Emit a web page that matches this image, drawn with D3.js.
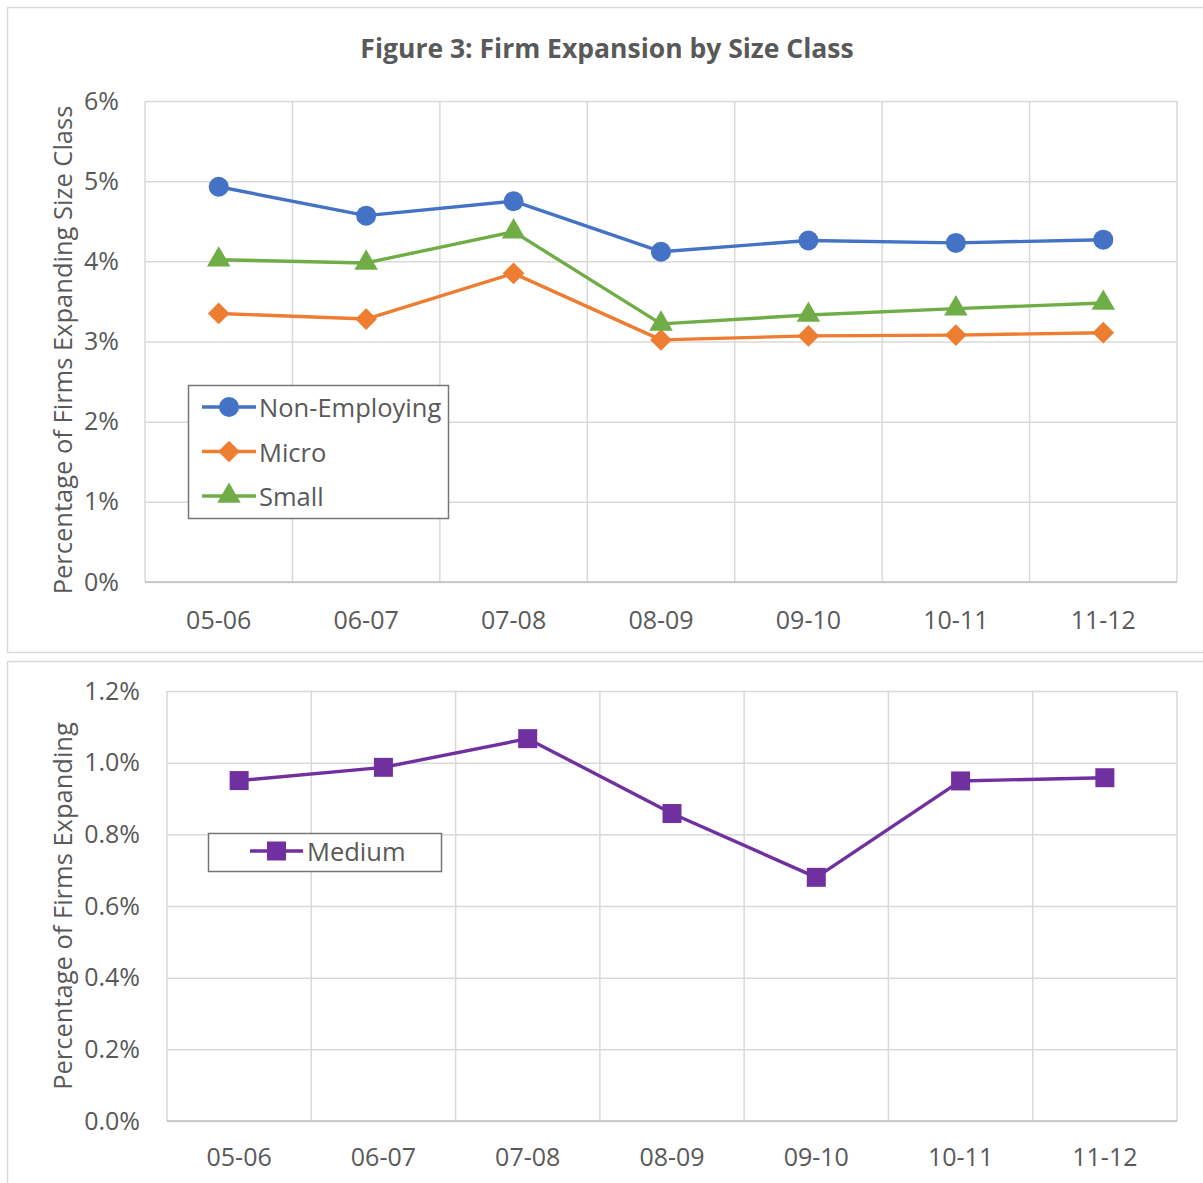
<!DOCTYPE html>
<html>
<head>
<meta charset="utf-8">
<script src="https://cdn.jsdelivr.net/npm/d3@7"></script>
<style>
  html, body { margin: 0; padding: 0; background: #ffffff; }
  svg { display: block; }
  text { font-family: "Open Sans", "Noto Sans", sans-serif; fill: #595959; }
</style>
</head>
<body>
<svg id="chart" width="1203" height="1183"></svg>
<script>
// Fiscal-year periods shared by both panels
const periods = ["05-06", "06-07", "07-08", "08-09", "09-10", "10-11", "11-12"];

// Share of firms expanding out of their size class (%)
const nonEmploying = [4.93, 4.57, 4.75, 4.12, 4.26, 4.23, 4.27];
const micro        = [3.35, 3.28, 3.85, 3.02, 3.07, 3.08, 3.11];
const small        = [4.02, 3.98, 4.37, 3.22, 3.33, 3.41, 3.48];
const medium       = [0.95, 0.987, 1.067, 0.858, 0.68, 0.949, 0.958];

// Axis ticks
const topTicks = [0, 1, 2, 3, 4, 5, 6];
const bottomTicks = [0, 0.2, 0.4, 0.6, 0.8, 1.0, 1.2];

const title = "Figure 3: Firm Expansion by Size Class";

const svg = d3.select("#chart");
const gridColor = "#d9d9d9";
const tickFont = 25;

const symbols = {
  circle: d3.symbol().type(d3.symbolCircle).size(Math.PI * 10 * 10),
  diamond: d3.symbol().type(d3.symbolDiamond2 || d3.symbolDiamond).size(300),
  triangle: d3.symbol().type(d3.symbolTriangle).size(240),
  square: d3.symbol().type(d3.symbolSquare).size(19 * 19)
};

svg.append("rect").attr("width", 1203).attr("height", 1183).attr("fill", "#fff");

function drawPanel(cfg) {
  // panel frame
  svg.append("rect")
    .attr("x", 7.5).attr("y", cfg.frameTop + 0.5)
    .attr("width", 1210).attr("height", cfg.frameBottom - cfg.frameTop)
    .attr("fill", "#fff").attr("stroke", gridColor).attr("stroke-width", 1.5);

  const x = d3.scaleBand().domain(periods).range([cfg.left, cfg.right]);
  const y = d3.scaleLinear().domain(cfg.domain).range([cfg.bottom, cfg.top]);

  const g = svg.append("g");

  // horizontal gridlines
  g.append("g")
    .attr("transform", `translate(${cfg.left},0)`)
    .call(d3.axisLeft(y).tickValues(cfg.ticks).tickSize(-(cfg.right - cfg.left)).tickFormat(""))
    .call(a => a.select(".domain").remove())
    .call(a => a.selectAll("line").attr("stroke", gridColor).attr("stroke-width", 1.5));

  // vertical gridlines at category boundaries
  const bounds = periods.map(p => x(p)).concat([cfg.right]);
  g.append("g").selectAll("line").data(bounds).join("line")
    .attr("x1", d => d).attr("x2", d => d)
    .attr("y1", cfg.top).attr("y2", cfg.bottom)
    .attr("stroke", gridColor).attr("stroke-width", 1.5);

  // baseline
  g.append("line")
    .attr("x1", cfg.left).attr("x2", cfg.right)
    .attr("y1", cfg.bottom).attr("y2", cfg.bottom)
    .attr("stroke", "#bfbfbf").attr("stroke-width", 1.5);

  // y tick labels
  const yAxis = g.append("g")
    .attr("transform", `translate(${cfg.tickLabelX},0)`)
    .call(d3.axisLeft(y).tickValues(cfg.ticks).tickSize(0).tickPadding(0).tickFormat(cfg.fmt));
  yAxis.select(".domain").remove();
  yAxis.selectAll("text")
    .style("font-family", "\"Open Sans\", sans-serif")
    .attr("font-size", tickFont).attr("fill", "#595959");

  // x tick labels
  const xAxis = g.append("g")
    .attr("transform", `translate(0,${cfg.bottom})`)
    .call(d3.axisBottom(x).tickSize(0).tickPadding(cfg.xPad));
  xAxis.select(".domain").remove();
  xAxis.selectAll("text")
    .style("font-family", "\"Open Sans\", sans-serif")
    .attr("font-size", tickFont).attr("fill", "#595959");

  // y axis title
  svg.append("text")
    .attr("transform", `translate(${cfg.titleX},${cfg.titleY}) rotate(-90)`)
    .attr("text-anchor", "middle")
    .attr("dominant-baseline", "central")
    .attr("font-size", 25.5)
    .text(cfg.yTitle);

  // series
  const cx = d => x(d) + x.bandwidth() / 2;
  cfg.series.forEach(s => {
    const line = d3.line().x((v, i) => cx(periods[i])).y(v => y(v));
    g.append("path").datum(s.values)
      .attr("fill", "none").attr("stroke", s.color).attr("stroke-width", 3.4)
      .attr("stroke-linejoin", "round")
      .attr("d", line);
    g.append("g").selectAll("path").data(s.values).join("path")
      .attr("transform", (v, i) => `translate(${cx(periods[i])},${y(v)})`)
      .attr("d", symbols[s.shape]())
      .attr("fill", s.color);
  });

  // legend
  const L = cfg.legend;
  svg.append("rect")
    .attr("x", L.x + 0.5).attr("y", L.y + 0.5)
    .attr("width", L.w).attr("height", L.h)
    .attr("fill", "#fff").attr("stroke", "#767676").attr("stroke-width", 1.5);
  cfg.series.forEach((s, i) => {
    const ry = L.rowY + i * L.rowStep;
    svg.append("line")
      .attr("x1", L.lineX1).attr("x2", L.lineX2)
      .attr("y1", ry).attr("y2", ry)
      .attr("stroke", s.color).attr("stroke-width", 3.4);
    svg.append("path")
      .attr("transform", `translate(${(L.lineX1 + L.lineX2) / 2},${ry})`)
      .attr("d", symbols[s.shape]())
      .attr("fill", s.color);
    svg.append("text")
      .attr("x", L.textX).attr("y", ry)
      .attr("dominant-baseline", "central")
      .attr("font-size", 25.5)
      .text(s.name);
  });
}

drawPanel({
  frameTop: 7, frameBottom: 652,
  left: 145, right: 1177, top: 101, bottom: 582,
  domain: [0, 6], ticks: topTicks, fmt: d => d + "%",
  tickLabelX: 119, xPad: 29,
  titleX: 62, titleY: 350,
  yTitle: "Percentage of Firms Expanding Size Class",
  series: [
    { name: "Non-Employing", values: nonEmploying, color: "#4472c4", shape: "circle" },
    { name: "Micro", values: micro, color: "#ed7d31", shape: "diamond" },
    { name: "Small", values: small, color: "#70ad47", shape: "triangle" }
  ],
  legend: { x: 188, y: 385, w: 260, h: 133, rowY: 407, rowStep: 44.5, lineX1: 202, lineX2: 256, textX: 259 }
});

// chart title
svg.append("text")
  .attr("x", 607).attr("y", 48)
  .attr("text-anchor", "middle").attr("dominant-baseline", "central")
  .attr("font-size", 26.5).attr("font-weight", "bold")
  .text(title);

drawPanel({
  frameTop: 661, frameBottom: 1200,
  left: 167, right: 1177, top: 691, bottom: 1121,
  domain: [0, 1.2], ticks: bottomTicks, fmt: d => d.toFixed(1) + "%",
  tickLabelX: 140, xPad: 27,
  titleX: 62, titleY: 906,
  yTitle: "Percentage of Firms Expanding",
  series: [
    { name: "Medium", values: medium, color: "#7030a0", shape: "square" }
  ],
  legend: { x: 208, y: 833, w: 233, h: 38, rowY: 851, rowStep: 0, lineX1: 250, lineX2: 303, textX: 307 }
});
</script>
</body>
</html>
